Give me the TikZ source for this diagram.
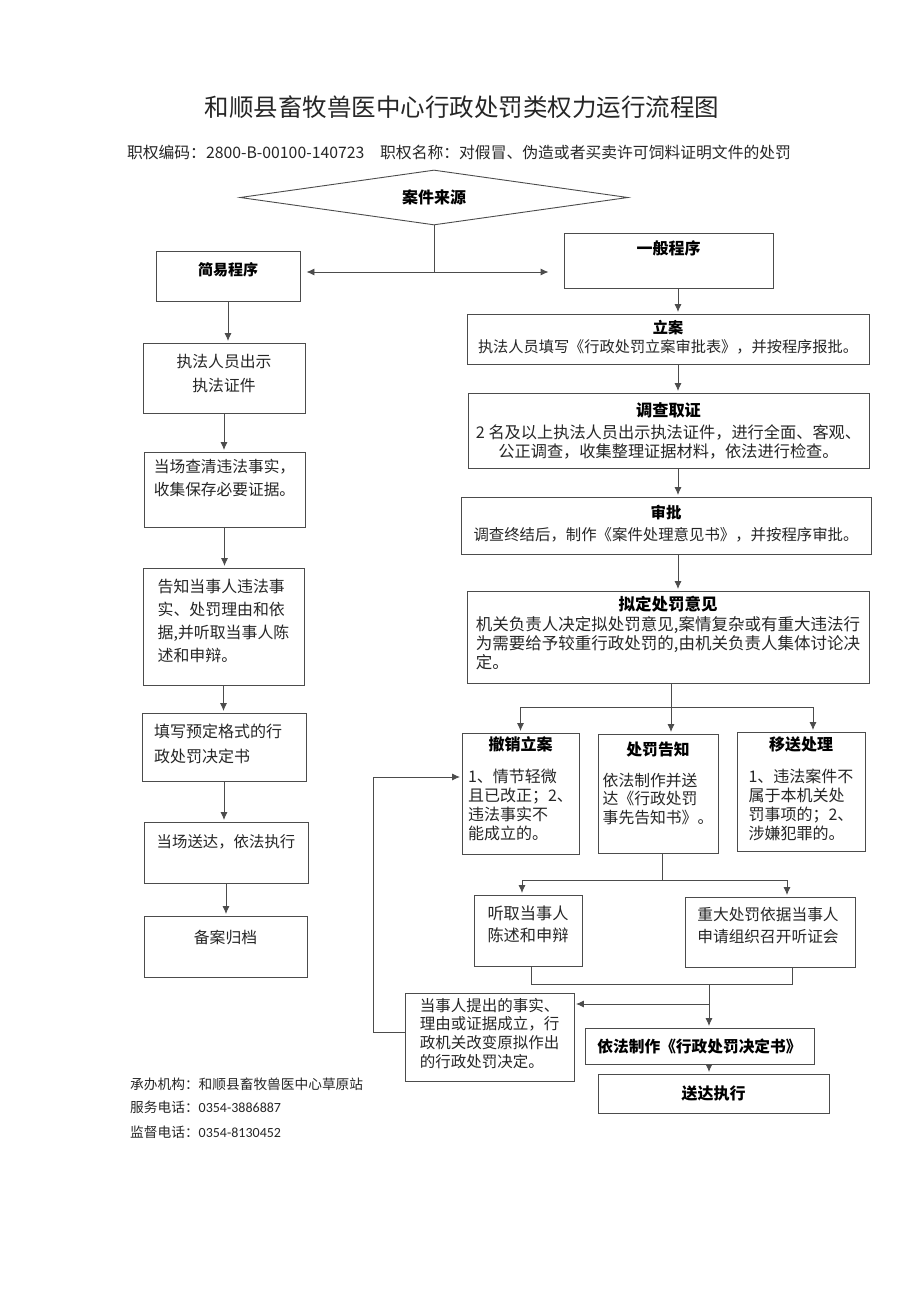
\documentclass[tikz,border=0pt]{standalone}
\usepackage{fontspec}
\setmainfont{Noto Sans CJK SC}
\newfontfamily\carl{Carlito}
\usetikzlibrary{arrows.meta,shapes.geometric}
\newcommand\fs[2]{\fontsize{#1pt}{#2pt}\selectfont}
\newcommand\cellbox[4]{\raisebox{#2}[\height][\depth]{\hspace*{#1}\begin{tabular}{@{}#3@{}}#4\end{tabular}\hspace*{-#1}}}
\newcommand\ttl[1]{\multicolumn{1}{@{}c@{}}{\bfseries\color{black}#1}}
\newcommand\upby[2]{\raisebox{#1}[\height][\depth]{#2}}
\begin{document}
\begin{tikzpicture}[x=1pt,y=-1pt,
  box/.style={draw=black!70, line width=0.9pt, inner sep=0pt, text=black!85},
  boldbox/.style={box, text=black},
  line/.style={draw=black!70, line width=0.9pt},
  arr/.style={line, -{Latex[length=8pt,width=7pt]}, shorten >=1.5pt},
  arrboth/.style={line, {Latex[length=8pt,width=7pt]}-{Latex[length=8pt,width=7pt]}},
  plain/.style={inner sep=0pt, text=black!85},
]
\fill[white] (0,0) rectangle (912,1290);
\useasboundingbox (0,0) rectangle (912,1290);

% titles
\node[plain, text=black!85, font=\fs{24.5}{30}] (T) at (462,107) {和顺县畜牧兽医中心行政处罚类权力运行流程图};
\node[plain, font=\fs{15.8}{20}] (S) at (459,152) {职权编码：2800-B-00100-140723\hspace{1em}职权名称：对假冒、伪造或者买卖许可饲料证明文件的处罚};

% source diamond
\node[diamond, draw=black!70, line width=0.9pt, aspect=7.05, minimum width=388pt, minimum height=55pt, inner sep=0pt, font=\bfseries\fs{16}{18}] (src) at (434,197.5) {案件来源};
\coordinate (j0) at (434,272);

% left column
\node[boldbox, minimum width=144pt, minimum height=50pt, font=\bfseries\fs{15}{18}] (simple) at (228,276) {\upby{6pt}{简易程序}};
\node[box, minimum width=162pt, minimum height=70pt, font=\fs{15.8}{24}] (L1) at (224,378) {\cellbox{0pt}{3pt}{c}{执法人员出示\\执法证件}};
\node[box, minimum width=161pt, minimum height=75pt, font=\fs{15.7}{23}] (L2) at (224.5,489.5) {\cellbox{0pt}{10.5pt}{l}{当场查清违法事实，\\收集保存必要证据。}};
\node[box, minimum width=161pt, minimum height=117pt, font=\fs{15.9}{23}] (L3) at (223.5,626.5) {\cellbox{0pt}{4pt}{l}{告知当事人违法事\\实、处罚理由和依\\据,并听取当事人陈\\述和申辩。}};
\node[box, minimum width=164pt, minimum height=68pt, font=\fs{16}{25}] (L4) at (224,747) {\cellbox{-6pt}{2.5pt}{l}{填写预定格式的行\\政处罚决定书}};
\node[box, minimum width=164pt, minimum height=61pt, font=\fs{15.4}{18}] (L5) at (226,852.5) {\upby{10.5pt}{当场送达，依法执行}};
\node[box, minimum width=163pt, minimum height=61pt, font=\fs{15.8}{18}] (L6) at (225.5,946.5) {\upby{9.5pt}{备案归档}};

% right column
\node[boldbox, minimum width=209pt, minimum height=55pt, font=\bfseries\fs{16}{18}] (general) at (668.5,260.5) {\upby{12pt}{一般程序}};
\node[box, minimum width=402pt, minimum height=50pt, font=\fs{15.2}{19}] (R1) at (668,339) {\cellbox{0pt}{0pt}{c}{{\bfseries\color{black}立案}\\执法人员填写《行政处罚立案审批表》，并按程序报批。}};
\node[box, minimum width=401pt, minimum height=75pt, font=\fs{16.2}{18}] (R2) at (668.5,430.5) {\cellbox{0pt}{-2pt}{c}{{\bfseries\color{black}调查取证}\\[3pt]2 名及以上执法人员出示执法证件，进行全面、客观、\\公正调查，收集整理证据材料，依法进行检查。}};
\node[box, minimum width=410pt, minimum height=57pt, font=\fs{15.4}{22}] (R3) at (666,525.5) {\cellbox{0pt}{0pt}{c}{{\bfseries\color{black}审批}\\调查终结后，制作《案件处理意见书》，并按程序审批。}};
\node[box, minimum width=402pt, minimum height=92pt, font=\fs{16.5}{16.8}] (R4) at (668,637) {\cellbox{0pt}{2pt}{l}{\ttl{拟定处罚意见}\\[1.5pt]机关负责人决定拟处罚意见,案情复杂或有重大违法行\\为需要给予较重行政处罚的,由机关负责人集体讨论决\\定。}};

\node[box, minimum width=117pt, minimum height=121pt, font=\fs{16}{18.5}] (B1) at (520.5,793.5) {\cellbox{0pt}{2.5pt}{l}{\ttl{撤销立案}\\[12.5pt]1、情节轻微\\且已改正；2、\\违法事实不\\能成立的。}};
\node[box, minimum width=120pt, minimum height=119pt, font=\fs{15.8}{18}] (B2) at (658,793.5) {\cellbox{0pt}{8pt}{l}{\ttl{处罚告知}\\[12pt]依法制作并送\\达《行政处罚\\事先告知书》。}};
\node[box, minimum width=128pt, minimum height=119pt, font=\fs{16}{18.5}] (B3) at (801,791.5) {\cellbox{0pt}{0.5pt}{l}{\ttl{移送处理}\\[12.5pt]1、违法案件不\\属于本机关处\\罚事项的；2、\\涉嫌犯罪的。}};

\node[box, minimum width=108pt, minimum height=71pt, font=\fs{16.2}{22}] (C1) at (528,930.5) {\cellbox{0pt}{4.5pt}{l}{听取当事人\\陈述和申辩}};
\node[box, minimum width=170pt, minimum height=70pt, font=\fs{15.7}{22}] (C2) at (770,932) {\cellbox{-2pt}{5pt}{l}{重大处罚依据当事人\\申请组织召开听证会}};

\node[box, minimum width=169pt, minimum height=88pt, font=\fs{15.5}{18.5}] (E1) at (489.5,1037) {\cellbox{0pt}{1.5pt}{l}{当事人提出的事实、\\理由或证据成立，行\\政机关改变原拟作出\\的行政处罚决定。}};
\node[boldbox, minimum width=229pt, minimum height=36pt, font=\bfseries\fs{15.7}{18}] (D1) at (699.5,1046) {依法制作《行政处罚决定书》};
\node[boldbox, minimum width=231pt, minimum height=39pt, font=\bfseries\fs{16}{18}] (D2) at (713.5,1093.5) {送达执行};

% footer
\node[plain, anchor=west, font=\fs{13.7}{16}] (F1) at (130,1084) {承办机构：和顺县畜牧兽医中心草原站};
\node[plain, anchor=west, font=\fs{13.7}{16}] (F2) at (130,1107) {服务电话：{\carl\fontsize{14pt}{16pt}\selectfont 0354-3886887}};
\node[plain, anchor=west, font=\fs{13.7}{16}] (F3) at (130,1132) {监督电话：{\carl\fontsize{14pt}{16pt}\selectfont 0354-8130452}};

% connectors: top
\draw[line] (src.south) -- (j0);
\coordinate (aL) at ([xshift=6pt]simple.east |- j0);
\coordinate (aR) at ([xshift=-15pt]general.west |- j0);
\draw[arrboth] (aL) -- (aR);

% left column arrows
\draw[arr] (simple.south) -- (simple.south |- L1.north);
\draw[arr] (L1.south) -- (L1.south |- L2.north);
\draw[arr] (L2.south) -- (L2.south |- L3.north);
\draw[arr] (L3.south) -- (L3.south |- L4.north);
\draw[arr] (L4.south) -- (L4.south |- L5.north);
\draw[arr] (L5.south) -- (L5.south |- L6.north);

% right column arrows
\coordinate (cx) at (678,0);
\draw[arr] (general.south -| cx) -- (R1.north -| cx);
\draw[arr] (R1.south -| cx) -- (R2.north -| cx);
\draw[arr] (R2.south -| cx) -- (R3.north -| cx);
\draw[arr] (R3.south -| cx) -- (R4.north -| cx);

% three-way split
\coordinate (sp) at (671,707);
\draw[line] (R4.south -| sp) -- (sp);
\draw[arr] (sp) -- (B2.north -| sp);
\draw[arr] (sp) -| (B1.north);
\draw[arr] (sp) -| ([xshift=12pt]B3.north);

% two-way split
\coordinate (sp2) at (662,880);
\draw[line] (B2.south -| sp2) -- (sp2);
\draw[arr] (sp2) -| ([xshift=-6pt]C1.north);
\draw[arr] (sp2) -| ([xshift=17pt]C2.north);

% merge
\coordinate (m1) at (709,984);
\coordinate (m2) at (709,1004);
\draw[line] ([xshift=3pt]C1.south) |- (m1) -| ([xshift=22pt]C2.south);
\draw[arr] (m1) -- (m1 |- D1.north);
\draw[arr] (m2) -- (m2 -| E1.east);
\draw[arr] (D1.south -| m1) -- (D2.north -| m1);

% feedback
\coordinate (fb) at (373,0);
\coordinate (e1w) at ([yshift=5pt]E1.west);
\coordinate (b1w) at ([yshift=16.5pt]B1.west);
\draw[arr] (e1w) -- (e1w -| fb) |- (b1w);
\end{tikzpicture}
\end{document}
